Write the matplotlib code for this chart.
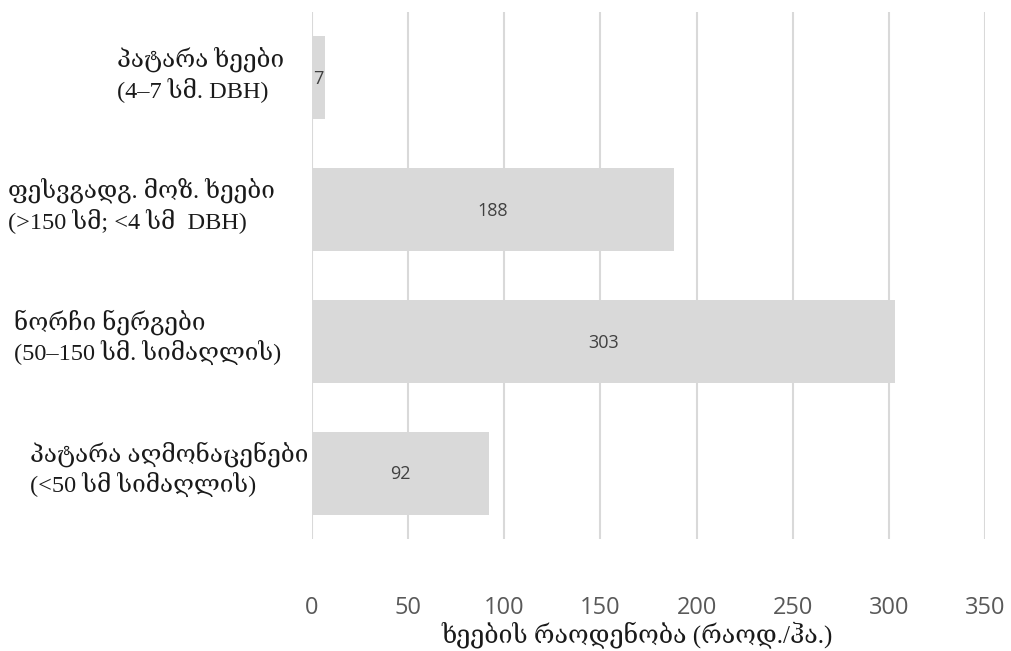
import matplotlib
matplotlib.use("Agg")
import matplotlib.pyplot as plt
import matplotlib.transforms as mtransforms

# Tree counts per regeneration class (top to bottom)
categories = [
    "პატარა ხეები\n(4–7 სმ. DBH)",
    "ფესვგადგ. მოზ. ხეები\n(>150 სმ; <4 სმ  DBH)",
    "ნორჩი ნერგები\n(50–150 სმ. სიმაღლის)",
    "პატარა აღმონაცენები\n(<50 სმ სიმაღლის)",
]
counts = [7, 188, 303, 92]
xticks = [0, 50, 100, 150, 200, 250, 300, 350]
xlabel = "ხეების რაოდენობა (რაოდ./ჰა.)"

# left edge of each category label, in figure fraction
label_x = [0.116, 0.008, 0.014, 0.030]

geo_font = ["Liberation Serif", "DejaVu Serif"]

fig = plt.figure(figsize=(10.11, 6.51), dpi=100)
ax = fig.add_axes([0.3086, 0.172, 0.9743 - 0.3086, 0.9816 - 0.172])

ypos = list(range(len(counts)))
bars = ax.barh(ypos, counts, height=0.63, color="#d9d9d9", zorder=2)
ax.set_ylim(len(counts) - 0.5, -0.5)
ax.set_xlim(0, 350)

for y, v in zip(ypos, counts):
    ax.text(v / 2, y + 0.01, str(v), ha="center", va="center", fontsize=13,
            color="#404040", family="Open Sans", zorder=3)

ax.set_xticks(xticks)
ax.set_xticklabels([str(t) for t in xticks], family="Open Sans",
                   fontsize=17, color="#595959")
ax.tick_params(axis="x", length=0, pad=41)
ax.set_yticks([])
ax.grid(axis="x", color="#d9d9d9", linewidth=1.5, zorder=1)
for s in ax.spines.values():
    s.set_visible(False)

trans = mtransforms.blended_transform_factory(fig.transFigure, ax.transData)
for x, y, lab in zip(label_x, ypos, categories):
    ax.text(x, y - 0.03, lab, transform=trans, ha="left", va="center",
            fontsize=17.5, family=geo_font, color="#1a1a1a",
            linespacing=1.25, clip_on=False)

fig.text(0.63, 1 - 635 / 651, xlabel, ha="center", va="center", fontsize=18,
         family=geo_font, color="#1a1a1a")

fig.savefig("out.png", dpi=100, facecolor="white")
